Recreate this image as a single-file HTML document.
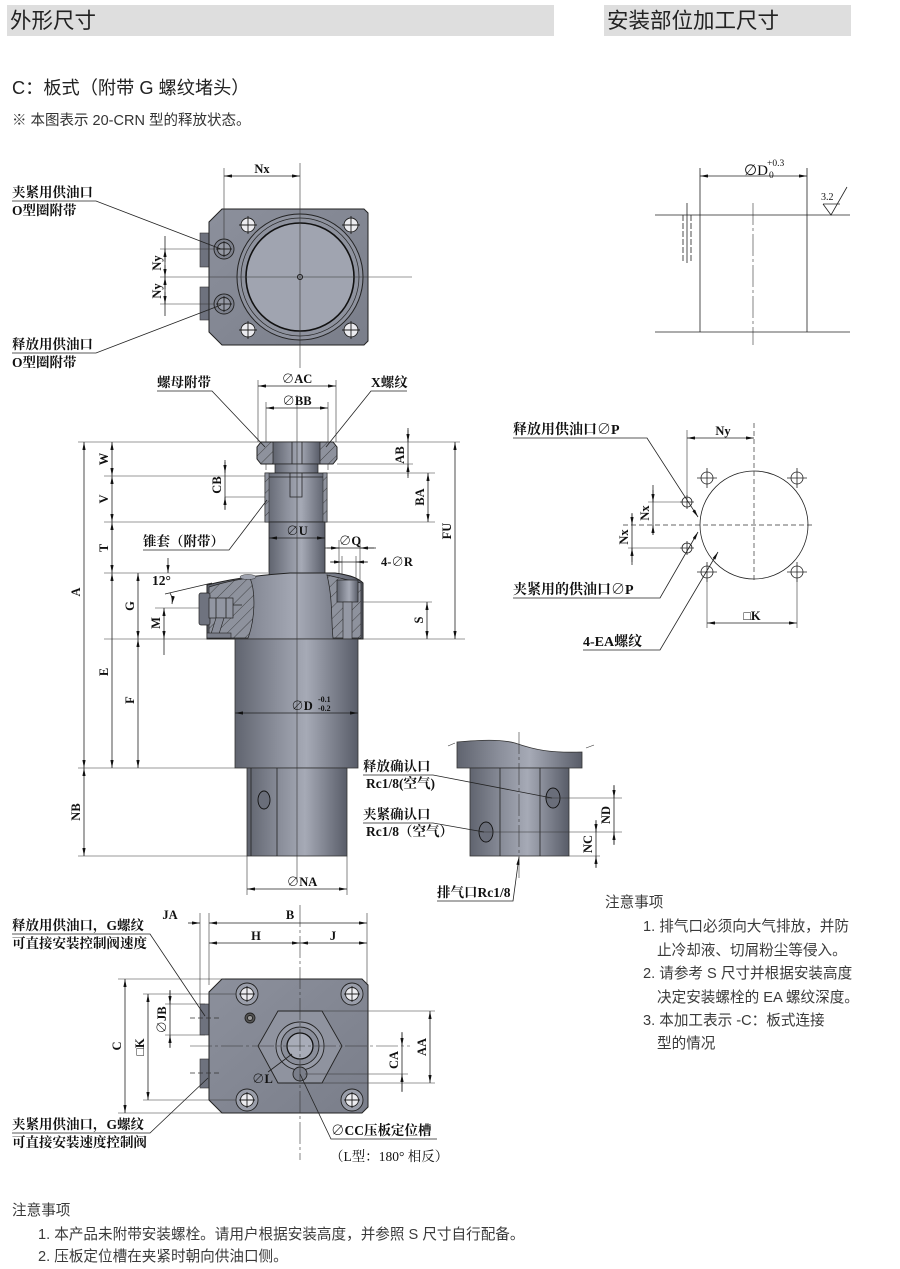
<!DOCTYPE html>
<html><head><meta charset="utf-8">
<style>
html,body{margin:0;padding:0;background:#fff;}
svg{display:block;}
.l{stroke:#222;stroke-width:.8;fill:none}
.c{stroke:#333;stroke-width:.6;fill:none}
.cd{stroke:#333;stroke-width:.6;fill:none;stroke-dasharray:22,3,3,3}
.dd{stroke:#333;stroke-width:.7;fill:none;stroke-dasharray:5,3}
.lb{font-family:"Liberation Serif","Noto Serif CJK SC",serif;font-weight:bold;font-size:13.5px;fill:#111}
.dm{font-family:"Liberation Serif","Noto Serif CJK SC",serif;font-weight:bold;font-size:12.5px;fill:#111}
.nt{font-family:"Liberation Sans","Noto Sans CJK SC",sans-serif;font-size:14.6px;fill:#3a3a3a}
.hd{font-family:"Liberation Sans","Noto Sans CJK SC",sans-serif;font-size:21.5px;fill:#222}
</style></head><body>
<svg width="900" height="1269" viewBox="0 0 900 1269" xmlns="http://www.w3.org/2000/svg">
<defs>
<marker id="a" viewBox="0 0 10 4" refX="10" refY="2" markerWidth="8" markerHeight="3.2" markerUnits="userSpaceOnUse" orient="auto-start-reverse"><path d="M0,0L10,2L0,4z" fill="#111"/></marker>
<linearGradient id="cy" x1="0" x2="1" y1="0" y2="0">
<stop offset="0" stop-color="#60646f"/><stop offset=".35" stop-color="#8c909c"/><stop offset=".58" stop-color="#a6aab6"/><stop offset=".8" stop-color="#7d818d"/><stop offset="1" stop-color="#585c68"/>
</linearGradient>
<linearGradient id="pl" x1="0" x2="1" y1="0" y2="1">
<stop offset="0" stop-color="#8c909c"/><stop offset="1" stop-color="#7a7e8a"/>
</linearGradient>
<pattern id="h" width="8" height="8" patternUnits="userSpaceOnUse" patternTransform="rotate(45)"><rect width="8" height="8" fill="#8e929d"/><line x1="0" y1="0" x2="0" y2="8" stroke="#222" stroke-width="0.7"/></pattern>
</defs>

<!-- headers -->
<rect x="7" y="5" width="547" height="31" fill="#dedede"/>
<text class="hd" x="10" y="28">外形尺寸</text>
<rect x="604" y="5" width="247" height="31" fill="#dedede"/>
<text class="hd" x="607" y="28">安装部位加工尺寸</text>
<text x="12" y="94" style="font-family:'Liberation Sans','Noto Sans CJK SC',sans-serif;font-size:18.2px;fill:#222">C：板式（附带 G 螺纹堵头）</text>
<text x="12" y="125" style="font-family:'Liberation Sans','Noto Sans CJK SC',sans-serif;font-size:14.5px;fill:#333">※ 本图表示 20-CRN 型的释放状态。</text>

<!-- ================= TOP VIEW ================= -->
<rect x="200" y="233" width="10" height="34" fill="#6e727e" stroke="#333" stroke-width=".6"/>
<rect x="200" y="287" width="10" height="33" fill="#6e727e" stroke="#333" stroke-width=".6"/>
<path d="M222,209H364L368,213V341L364,345H222L209,332V222Z" fill="url(#pl)" stroke="#222"/>
<circle cx="300" cy="277" r="63" fill="#8e929e" stroke="#222"/>
<circle cx="300" cy="277" r="59" fill="none" stroke="#222" stroke-width=".7"/>
<circle cx="300" cy="277" r="54" fill="#a0a4b0" stroke="#111" stroke-width="1.6"/>
<circle cx="300" cy="277" r="2.5" fill="none" stroke="#111"/>
<g stroke="#222" stroke-width=".9">
<circle cx="248" cy="225" r="7" fill="#ececf0"/><circle cx="351" cy="225" r="7" fill="#ececf0"/>
<circle cx="248" cy="330" r="7" fill="#ececf0"/><circle cx="351" cy="330" r="7" fill="#ececf0"/>
<path d="M239,225h18M248,216v18M342,225h18M351,216v18M239,330h18M248,321v18M342,330h18M351,321v18"/>
<circle cx="224" cy="249" r="10" fill="#7c808c"/><circle cx="224" cy="249" r="6.5" fill="#9599a4"/>
<circle cx="224" cy="304" r="10" fill="#7c808c"/><circle cx="224" cy="304" r="6.5" fill="#9599a4"/>
<path d="M216,249h16M224,241v16M216,304h16M224,296v16"/>
</g>
<line class="c" x1="160" y1="277" x2="412" y2="277"/>
<line class="c" x1="300" y1="163" x2="300" y2="368"/>
<!-- Nx -->
<line class="c" x1="224" y1="168" x2="224" y2="240"/>
<line class="l" x1="224" y1="176" x2="300" y2="176" marker-start="url(#a)" marker-end="url(#a)"/>
<text class="dm" x="262" y="173" text-anchor="middle">Nx</text>
<!-- Ny -->
<line class="c" x1="160" y1="249" x2="215" y2="249"/>
<line class="c" x1="160" y1="304" x2="215" y2="304"/>
<line class="l" x1="165" y1="236" x2="165" y2="316"/>
<line class="l" x1="165" y1="262" x2="165" y2="249" marker-end="url(#a)"/>
<line class="l" x1="165" y1="265" x2="165" y2="277" marker-end="url(#a)"/>
<line class="l" x1="165" y1="289" x2="165" y2="277" marker-end="url(#a)"/>
<line class="l" x1="165" y1="292" x2="165" y2="304" marker-end="url(#a)"/>
<text class="dm" transform="translate(161,263) rotate(-90)" text-anchor="middle">Ny</text>
<text class="dm" transform="translate(161,291) rotate(-90)" text-anchor="middle">Ny</text>
<!-- labels -->
<text class="lb" x="12" y="197">夹紧用供油口</text>
<text class="lb" x="12" y="215">O型圈附带</text>
<path class="l" d="M12,201H96L221,249"/>
<text class="lb" x="12" y="349">释放用供油口</text>
<text class="lb" x="12" y="367">O型圈附带</text>
<path class="l" d="M12,353H96L221,305"/>

<!-- ================= SIDE VIEW ================= -->
<g class="c">
<line x1="78" y1="442" x2="460" y2="442"/>
<line x1="104" y1="476" x2="268" y2="476"/>
<line x1="327" y1="473" x2="435" y2="473"/>
<line x1="337" y1="464" x2="413" y2="464"/>
<line x1="104" y1="522" x2="435" y2="522"/>
<line x1="104" y1="573" x2="268" y2="573"/>
<line x1="104" y1="639" x2="465" y2="639"/>
<line x1="358" y1="602" x2="432" y2="602"/>
<line x1="155" y1="608" x2="240" y2="608"/>
<line x1="78" y1="768" x2="235" y2="768"/>
<line x1="78" y1="856" x2="247" y2="856"/>
<line x1="225" y1="497" x2="300" y2="497"/>
<line x1="258" y1="380" x2="258" y2="442"/>
<line x1="336" y1="380" x2="336" y2="442"/>
<line x1="266" y1="402" x2="266" y2="470"/>
<line x1="328" y1="402" x2="328" y2="470"/>
<line x1="247" y1="856" x2="247" y2="895"/>
<line x1="347" y1="856" x2="347" y2="895"/>
<line x1="339" y1="540" x2="339" y2="580"/>
<line x1="360" y1="540" x2="360" y2="580"/>
<line x1="342" y1="556" x2="342" y2="610"/>
<line x1="356" y1="556" x2="356" y2="600"/>
</g>
<!-- nut -->
<path d="M261,442H333L337,447V459L333,464H261L257,459V447Z" fill="url(#h)" stroke="#222"/>
<rect x="273" y="442" width="47" height="22" fill="url(#cy)" stroke="#222" stroke-width=".7"/>
<path class="l" d="M292,442V464M302,442V464"/>
<rect x="275" y="464" width="43" height="9" fill="url(#cy)" stroke="#222" stroke-width=".7"/>
<!-- collet -->
<rect x="265" y="473" width="62" height="49" fill="url(#cy)" stroke="#222" stroke-width=".8"/>
<rect x="265" y="473" width="4" height="49" fill="url(#h)" stroke="#222" stroke-width=".5"/>
<rect x="323" y="473" width="4" height="49" fill="url(#h)" stroke="#222" stroke-width=".5"/>
<path class="l" d="M290,473V497H302V473M269,477H323"/>
<!-- shaft -->
<rect x="269" y="522" width="56" height="53" fill="url(#cy)" stroke="#222" stroke-width=".8"/>
<!-- flange -->
<path d="M207,585C230,579 260,575 290,573L335,573C350,575 358,578 363,583L363,639L207,639Z" fill="url(#cy)" stroke="#222"/>
<path d="M209,587C225,582 240,579 250,578C256,592 255,620 248,638L209,638Z" fill="url(#h)" stroke="#222" stroke-width=".7"/>
<path d="M327,575L361,583L361,638L333,638C331,620 333,600 327,575Z" fill="url(#h)" stroke="#222" stroke-width=".7"/>
<rect x="337" y="580" width="21" height="22" fill="url(#cy)" stroke="#222" stroke-width=".7"/>
<rect x="343" y="602" width="9" height="37" fill="#9498a4" stroke="#222" stroke-width=".6"/>
<ellipse cx="248" cy="577" rx="8" ry="2.5" fill="#a0a4b0" stroke="#333" stroke-width=".5"/>
<!-- fitting -->
<rect x="199" y="593" width="11" height="32" rx="2" fill="#6f737f" stroke="#222" stroke-width=".7"/>
<rect x="209" y="598" width="24" height="20" fill="#9296a2" stroke="#222" stroke-width=".7"/>
<path class="l" d="M216,598V618M226,598V618M233,605H242"/>
<path d="M216,618L224,618L219,634L211,634Z" fill="#8a8e9a" stroke="#222" stroke-width=".6"/>
<rect x="207" y="633" width="24" height="5" fill="#7a7e8a" stroke="#222" stroke-width=".6"/>
<!-- big cylinder -->
<rect x="235" y="639" width="123" height="129" fill="url(#cy)" stroke="#333" stroke-width=".8"/>
<rect x="247" y="768" width="100" height="88" fill="url(#cy)" stroke="#333" stroke-width=".8"/>
<path class="l" d="M251,768V856M277,768V856"/>
<ellipse cx="264" cy="800" rx="6" ry="9" fill="#6a6e7a" stroke="#111" stroke-width=".9"/>
<line class="c" x1="297" y1="395" x2="297" y2="882"/>
<!-- left dims -->
<line class="l" x1="84" y1="442" x2="84" y2="768" marker-start="url(#a)" marker-end="url(#a)"/>
<line class="l" x1="84" y1="768" x2="84" y2="856" marker-start="url(#a)" marker-end="url(#a)"/>
<line class="l" x1="112" y1="442" x2="112" y2="476" marker-start="url(#a)" marker-end="url(#a)"/>
<line class="l" x1="112" y1="476" x2="112" y2="522" marker-start="url(#a)" marker-end="url(#a)"/>
<line class="l" x1="112" y1="522" x2="112" y2="573" marker-start="url(#a)" marker-end="url(#a)"/>
<line class="l" x1="112" y1="573" x2="112" y2="768" marker-start="url(#a)" marker-end="url(#a)"/>
<line class="l" x1="138" y1="573" x2="138" y2="639" marker-start="url(#a)" marker-end="url(#a)"/>
<line class="l" x1="138" y1="639" x2="138" y2="768" marker-start="url(#a)" marker-end="url(#a)"/>
<line class="l" x1="164" y1="608" x2="164" y2="639" marker-start="url(#a)" marker-end="url(#a)"/>
<line class="l" x1="164" y1="639" x2="164" y2="655"/>
<line class="l" x1="168" y1="558" x2="168" y2="573" marker-end="url(#a)"/>
<line class="l" x1="165" y1="594" x2="212" y2="583"/>
<path class="l" d="M170,593 Q173,598 172,604" marker-end="url(#a)"/>
<text class="dm" x="152" y="585" style="font-size:13.5px">12°</text>
<text class="dm" transform="translate(80,592) rotate(-90)" text-anchor="middle">A</text>
<text class="dm" transform="translate(108,459) rotate(-90)" text-anchor="middle">W</text>
<text class="dm" transform="translate(108,499) rotate(-90)" text-anchor="middle">V</text>
<text class="dm" transform="translate(108,548) rotate(-90)" text-anchor="middle">T</text>
<text class="dm" transform="translate(108,672) rotate(-90)" text-anchor="middle">E</text>
<text class="dm" transform="translate(134,606) rotate(-90)" text-anchor="middle">G</text>
<text class="dm" transform="translate(134,700) rotate(-90)" text-anchor="middle">F</text>
<text class="dm" transform="translate(160,623) rotate(-90)" text-anchor="middle">M</text>
<text class="dm" transform="translate(80,812) rotate(-90)" text-anchor="middle">NB</text>
<!-- CB -->
<line class="l" x1="225" y1="460" x2="225" y2="510"/>
<line class="l" x1="225" y1="462" x2="225" y2="473" marker-end="url(#a)"/>
<line class="l" x1="225" y1="509" x2="225" y2="497" marker-end="url(#a)"/>
<text class="dm" transform="translate(221,485) rotate(-90)" text-anchor="middle">CB</text>
<!-- right dims -->
<line class="l" x1="408" y1="428" x2="408" y2="478"/>
<line class="l" x1="408" y1="430" x2="408" y2="442" marker-end="url(#a)"/>
<line class="l" x1="408" y1="476" x2="408" y2="464" marker-end="url(#a)"/>
<text class="dm" transform="translate(404,455) rotate(-90)" text-anchor="middle">AB</text>
<line class="l" x1="428" y1="473" x2="428" y2="522" marker-start="url(#a)" marker-end="url(#a)"/>
<text class="dm" transform="translate(424,497) rotate(-90)" text-anchor="middle">BA</text>
<line class="l" x1="455" y1="442" x2="455" y2="639" marker-start="url(#a)" marker-end="url(#a)"/>
<text class="dm" transform="translate(451,531) rotate(-90)" text-anchor="middle">FU</text>
<line class="l" x1="427" y1="602" x2="427" y2="639" marker-start="url(#a)" marker-end="url(#a)"/>
<text class="dm" transform="translate(423,620) rotate(-90)" text-anchor="middle">S</text>
<!-- top dims -->
<line class="l" x1="258" y1="386" x2="336" y2="386" marker-start="url(#a)" marker-end="url(#a)"/>
<text class="dm" x="297" y="383" text-anchor="middle">∅AC</text>
<line class="l" x1="266" y1="408" x2="328" y2="408" marker-start="url(#a)" marker-end="url(#a)"/>
<text class="dm" x="297" y="405" text-anchor="middle">∅BB</text>
<line class="l" x1="269" y1="538" x2="325" y2="538" marker-start="url(#a)" marker-end="url(#a)"/>
<text class="dm" x="297" y="535" text-anchor="middle">∅U</text>
<line class="l" x1="325" y1="548" x2="376" y2="548"/>
<line class="l" x1="327" y1="548" x2="339" y2="548" marker-end="url(#a)"/>
<line class="l" x1="374" y1="548" x2="360" y2="548" marker-end="url(#a)"/>
<text class="dm" x="350" y="545" text-anchor="middle">∅Q</text>
<line class="l" x1="330" y1="562" x2="368" y2="562"/>
<line class="l" x1="331" y1="562" x2="342" y2="562" marker-end="url(#a)"/>
<line class="l" x1="367" y1="562" x2="356" y2="562" marker-end="url(#a)"/>
<text class="dm" x="381" y="566">4-∅R</text>
<!-- ∅D -->
<line class="l" x1="235" y1="713" x2="358" y2="713" marker-start="url(#a)" marker-end="url(#a)"/>
<text class="dm" x="302" y="710" text-anchor="middle">∅D</text>
<text class="dm" x="318" y="702" style="font-size:8px">-0.1</text>
<text class="dm" x="318" y="711" style="font-size:8px">-0.2</text>
<!-- ∅NA -->
<line class="l" x1="247" y1="889" x2="347" y2="889" marker-start="url(#a)" marker-end="url(#a)"/>
<text class="dm" x="302" y="886" text-anchor="middle">∅NA</text>
<!-- side labels -->
<text class="lb" x="157" y="387">螺母附带</text>
<path class="l" d="M157,391H212L265,447"/>
<text class="lb" x="371" y="387">X螺纹</text>
<path class="l" d="M407,391H371L326,447"/>
<text class="lb" x="143" y="546">锥套（附带）</text>
<path class="l" d="M143,550H229L267,500"/>

<!-- ================= EXHAUST DETAIL ================= -->
<path d="M457,742C480,740 500,739 515,743C535,750 550,753 582,752L582,768L457,768Z" fill="url(#cy)" stroke="#333" stroke-width=".8"/>
<path class="c" d="M448,746L455,743M586,748L594,745"/>
<rect x="470" y="768" width="99" height="88" fill="url(#cy)" stroke="#333" stroke-width=".8"/>
<path class="l" d="M500,768V856M540,768V856"/>
<ellipse cx="553" cy="798" rx="7" ry="10" fill="#6a6e7a" stroke="#111" stroke-width=".9"/>
<ellipse cx="486" cy="832" rx="7" ry="10" fill="#6a6e7a" stroke="#111" stroke-width=".9"/>
<line class="cd" x1="519" y1="732" x2="519" y2="880"/>
<line class="c" x1="545" y1="798" x2="622" y2="798"/>
<line class="c" x1="480" y1="832" x2="622" y2="832"/>
<line class="c" x1="569" y1="856" x2="600" y2="856"/>
<line class="l" x1="614" y1="785" x2="614" y2="845"/>
<line class="l" x1="614" y1="786" x2="614" y2="798" marker-end="url(#a)"/>
<line class="l" x1="614" y1="844" x2="614" y2="832" marker-end="url(#a)"/>
<text class="dm" transform="translate(610,815) rotate(-90)" text-anchor="middle">ND</text>
<line class="l" x1="596" y1="820" x2="596" y2="868"/>
<line class="l" x1="596" y1="821" x2="596" y2="832" marker-end="url(#a)"/>
<line class="l" x1="596" y1="867" x2="596" y2="856" marker-end="url(#a)"/>
<text class="dm" transform="translate(592,844) rotate(-90)" text-anchor="middle">NC</text>
<text class="lb" x="363" y="771">释放确认口</text>
<text class="lb" x="366" y="788">Rc1/8(空气)</text>
<path class="l" d="M363,775H433L552,798"/>
<text class="lb" x="363" y="819">夹紧确认口</text>
<text class="lb" x="366" y="836">Rc1/8（空气）</text>
<path class="l" d="M363,823H433L484,832"/>
<text class="lb" x="437" y="897">排气口Rc1/8</text>
<path class="l" d="M437,901H513L519,857" marker-end="url(#a)"/>

<!-- ================= RIGHT TOP (mounting) ================= -->
<g class="l">
<line x1="655" y1="215" x2="850" y2="215"/>
<line x1="655" y1="332" x2="850" y2="332"/>
<line x1="700" y1="168" x2="700" y2="332"/>
<line x1="807" y1="168" x2="807" y2="332"/>
<line x1="687" y1="203" x2="687" y2="263"/>
<line x1="683" y1="215" x2="683" y2="263" stroke-dasharray="6,2"/>
<line x1="691" y1="215" x2="691" y2="263" stroke-dasharray="6,2"/>
<path d="M823,204H840M823,204L831,215L847,187"/>
</g>
<line class="cd" x1="753" y1="203" x2="753" y2="345"/>
<line class="l" x1="700" y1="176" x2="807" y2="176" marker-start="url(#a)" marker-end="url(#a)"/>
<text x="744" y="175" style="font-family:'Liberation Serif',serif;font-size:15px;fill:#111">∅D</text>
<text x="767" y="166" style="font-family:'Liberation Serif',serif;font-size:9.5px;fill:#111">+0.3</text>
<text x="769" y="178" style="font-family:'Liberation Serif',serif;font-size:9.5px;fill:#111">0</text>
<text x="821" y="200" style="font-family:'Liberation Serif',serif;font-size:10px;fill:#111">3.2</text>

<!-- ================= RIGHT MID (hole pattern) ================= -->
<circle cx="754" cy="525" r="54" fill="none" stroke="#222" stroke-width=".8"/>
<line class="dd" x1="623" y1="525" x2="814" y2="525"/>
<line class="dd" x1="754" y1="423" x2="754" y2="580"/>
<g stroke="#222" stroke-width=".8" fill="none">
<circle cx="707" cy="478" r="6"/><circle cx="797" cy="478" r="6"/>
<circle cx="707" cy="572" r="6"/><circle cx="797" cy="572" r="6"/>
<path d="M697,478h20M707,468v20M787,478h20M797,468v20M697,572h20M707,562v20M787,572h20M797,562v20"/>
<circle cx="687" cy="502" r="5"/><circle cx="687" cy="548" r="5"/>
<path d="M680,502h14M687,495v14M680,548h14M687,541v14"/>
</g>
<line class="c" x1="687" y1="430" x2="687" y2="497"/>
<line class="l" x1="687" y1="438" x2="754" y2="438" marker-start="url(#a)" marker-end="url(#a)"/>
<text class="dm" x="723" y="435" text-anchor="middle">Ny</text>
<line class="c" x1="648" y1="502" x2="682" y2="502"/>
<line class="c" x1="628" y1="548" x2="682" y2="548"/>
<line class="l" x1="653" y1="485" x2="653" y2="535"/>
<line class="l" x1="653" y1="490" x2="653" y2="502" marker-end="url(#a)"/>
<line class="l" x1="653" y1="535" x2="653" y2="525" marker-end="url(#a)"/>
<text class="dm" transform="translate(649,513) rotate(-90)" text-anchor="middle">Nx</text>
<line class="l" x1="632" y1="513" x2="632" y2="565"/>
<line class="l" x1="632" y1="514" x2="632" y2="525" marker-end="url(#a)"/>
<line class="l" x1="632" y1="562" x2="632" y2="548" marker-end="url(#a)"/>
<text class="dm" transform="translate(628,537) rotate(-90)" text-anchor="middle">Nx</text>
<line class="c" x1="707" y1="578" x2="707" y2="628"/>
<line class="c" x1="797" y1="578" x2="797" y2="628"/>
<line class="l" x1="707" y1="623" x2="797" y2="623" marker-start="url(#a)" marker-end="url(#a)"/>
<text class="dm" x="752" y="620" text-anchor="middle">□K</text>
<text class="lb" x="513" y="434" style="font-size:14px">释放用供油口∅P</text>
<path class="l" d="M513,438H647L698,517" marker-end="url(#a)"/>
<text class="lb" x="513" y="594" style="font-size:14px">夹紧用的供油口∅P</text>
<path class="l" d="M513,598H660L698,532" marker-end="url(#a)"/>
<text class="lb" x="583" y="646" style="font-size:14px">4-EA螺纹</text>
<path class="l" d="M583,650H660L718,552" marker-end="url(#a)"/>

<!-- notes right -->
<text class="nt" x="605" y="907">注意事项</text>
<text class="nt" x="643" y="931">1. 排气口必须向大气排放，并防</text>
<text class="nt" x="657" y="955">止冷却液、切屑粉尘等侵入。</text>
<text class="nt" x="643" y="978">2. 请参考 S 尺寸并根据安装高度</text>
<text class="nt" x="657" y="1002">决定安装螺栓的 EA 螺纹深度。</text>
<text class="nt" x="643" y="1025">3. 本加工表示 -C：板式连接</text>
<text class="nt" x="657" y="1048">型的情况</text>

<!-- ================= BOTTOM VIEW ================= -->
<rect x="200" y="1004" width="9" height="31" fill="#6e727e" stroke="#333" stroke-width=".6"/>
<rect x="200" y="1059" width="9" height="29" fill="#6e727e" stroke="#333" stroke-width=".6"/>
<path d="M222,979H362L368,985V1107L362,1113H222L209,1100V992Z" fill="url(#pl)" stroke="#222"/>
<g stroke="#222" stroke-width=".9">
<circle cx="247" cy="994" r="11" fill="#9a9eaa"/><circle cx="247" cy="994" r="6.5" fill="#ececf0"/>
<circle cx="352" cy="994" r="11" fill="#9a9eaa"/><circle cx="352" cy="994" r="6.5" fill="#ececf0"/>
<circle cx="247" cy="1100" r="11" fill="#9a9eaa"/><circle cx="247" cy="1100" r="6.5" fill="#ececf0"/>
<circle cx="352" cy="1100" r="11" fill="#9a9eaa"/><circle cx="352" cy="1100" r="6.5" fill="#ececf0"/>
<path d="M239,994h16M247,986v16M344,994h16M352,986v16M239,1100h16M247,1092v16M344,1100h16M352,1092v16"/>
<circle cx="250" cy="1018" r="5" fill="#555"/><circle cx="250" cy="1018" r="2.5" fill="#999"/>
<path d="M258,1046L278,1011H322L342,1046L322,1083H278Z" fill="#8f939f"/>
<circle cx="300" cy="1046" r="24" fill="#979ba7"/>
<circle cx="300" cy="1046" r="19" fill="#8a8e9a"/>
<circle cx="300" cy="1046" r="13" fill="#a8acb8" stroke="#111" stroke-width="1.3"/>
<circle cx="300" cy="1074" r="7" fill="#7a7e8a"/>
</g>
<line class="cd" x1="190" y1="1046" x2="410" y2="1046"/>
<line class="cd" x1="300" y1="905" x2="300" y2="1160"/>
<path class="dd" d="M190,1018H220M190,1073H220"/>
<g class="c">
<line x1="200" y1="913" x2="200" y2="1004"/>
<line x1="209" y1="913" x2="209" y2="985"/>
<line x1="367" y1="913" x2="367" y2="985"/>
<line x1="118" y1="979" x2="225" y2="979"/>
<line x1="118" y1="1113" x2="222" y2="1113"/>
<line x1="143" y1="994" x2="236" y2="994"/>
<line x1="143" y1="1100" x2="236" y2="1100"/>
<line x1="165" y1="1004" x2="205" y2="1004"/>
<line x1="165" y1="1035" x2="205" y2="1035"/>
<line x1="320" y1="1011" x2="435" y2="1011"/>
<line x1="320" y1="1083" x2="435" y2="1083"/>
<line x1="305" y1="1074" x2="408" y2="1074"/>
</g>
<line class="l" x1="209" y1="923" x2="367" y2="923" marker-start="url(#a)" marker-end="url(#a)"/>
<line class="l" x1="188" y1="923" x2="200" y2="923" marker-end="url(#a)"/>
<text class="dm" x="170" y="919" text-anchor="middle">JA</text>
<text class="dm" x="290" y="919" text-anchor="middle">B</text>
<line class="l" x1="209" y1="943" x2="300" y2="943" marker-start="url(#a)" marker-end="url(#a)"/>
<line class="l" x1="300" y1="943" x2="367" y2="943" marker-start="url(#a)" marker-end="url(#a)"/>
<text class="dm" x="256" y="940" text-anchor="middle">H</text>
<text class="dm" x="333" y="940" text-anchor="middle">J</text>
<line class="l" x1="125" y1="979" x2="125" y2="1113" marker-start="url(#a)" marker-end="url(#a)"/>
<text class="dm" transform="translate(121,1046) rotate(-90)" text-anchor="middle">C</text>
<line class="l" x1="148" y1="994" x2="148" y2="1100" marker-start="url(#a)" marker-end="url(#a)"/>
<text class="dm" transform="translate(144,1047) rotate(-90)" text-anchor="middle">□K</text>
<line class="l" x1="170" y1="990" x2="170" y2="1048"/>
<line class="l" x1="170" y1="991" x2="170" y2="1004" marker-end="url(#a)"/>
<line class="l" x1="170" y1="1047" x2="170" y2="1035" marker-end="url(#a)"/>
<text class="dm" transform="translate(166,1020) rotate(-90)" text-anchor="middle">∅JB</text>
<line class="l" x1="430" y1="1011" x2="430" y2="1083" marker-start="url(#a)" marker-end="url(#a)"/>
<text class="dm" transform="translate(426,1047) rotate(-90)" text-anchor="middle">AA</text>
<line class="l" x1="402" y1="1032" x2="402" y2="1092"/>
<line class="l" x1="402" y1="1033" x2="402" y2="1046" marker-end="url(#a)"/>
<line class="l" x1="402" y1="1091" x2="402" y2="1074" marker-end="url(#a)"/>
<text class="dm" transform="translate(398,1060) rotate(-90)" text-anchor="middle">CA</text>
<line class="l" x1="292" y1="1054" x2="268" y2="1072"/>
<text class="dm" x="252" y="1083">∅L</text>
<text class="lb" x="12" y="930">释放用供油口，G螺纹</text>
<text class="lb" x="12" y="948">可直接安装控制阀速度</text>
<path class="l" d="M12,934H150L205,1016"/>
<text class="lb" x="12" y="1129">夹紧用供油口，G螺纹</text>
<text class="lb" x="12" y="1147">可直接安装速度控制阀</text>
<path class="l" d="M12,1133H150L208,1078"/>
<text class="lb" x="331" y="1135">∅CC压板定位槽</text>
<path class="l" d="M437,1139H331L300,1074"/>
<text x="330" y="1161" style="font-family:'Liberation Serif','Noto Serif CJK SC',serif;font-size:13.5px;fill:#111">（L型：180° 相反）</text>

<!-- bottom notes -->
<text class="nt" x="12" y="1215">注意事项</text>
<text class="nt" x="38" y="1239">1. 本产品未附带安装螺栓。请用户根据安装高度，并参照 S 尺寸自行配备。</text>
<text class="nt" x="38" y="1261">2. 压板定位槽在夹紧时朝向供油口侧。</text>
</svg>
</body></html>
